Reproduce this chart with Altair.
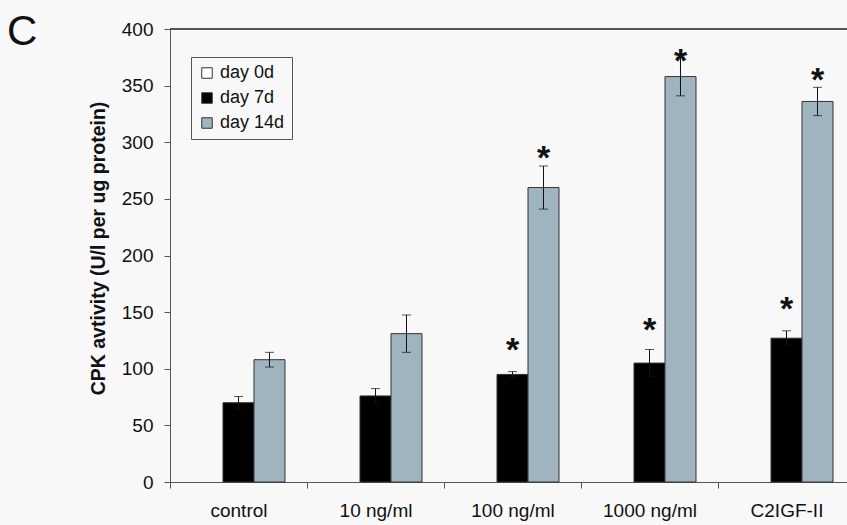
import altair as alt
import pandas as pd

# Creatine phosphokinase activity per treatment group and time point
categories = ["control", "10 ng/ml", "100 ng/ml", "1000 ng/ml", "C2IGF-II"]
series = ["day 0d", "day 7d", "day 14d"]
colors = ["#ffffff", "#000000", "#9fb4bf"]

day0 = [0, 0, 0, 0, 0]
day7 = [70, 76, 95, 105, 127]
day7_err = [5.5, 6.5, 2.5, 12, 6.5]
day14 = [108, 131, 260, 358, 336]
day14_err = [6.5, 16.5, 19, 17, 12.5]

# significance markers: group, series, height of the marker (U/l per ug protein)
star_cats = ["100 ng/ml", "100 ng/ml", "1000 ng/ml", "1000 ng/ml", "C2IGF-II", "C2IGF-II"]
star_series = ["day 7d", "day 14d", "day 7d", "day 14d", "day 7d", "day 14d"]
star_level = [124, 293, 141, 379, 160, 362]

y_ticks = [0, 50, 100, 150, 200, 250, 300, 350, 400]

rows = []
for s, vals, errs in [("day 0d", day0, [0] * 5), ("day 7d", day7, day7_err), ("day 14d", day14, day14_err)]:
    for c, v, e in zip(categories, vals, errs):
        rows.append({"group": c, "series": s, "value": v, "lo": v - e, "hi": v + e, "err": e})
df = pd.DataFrame(rows)
stars = pd.DataFrame({"group": star_cats, "series": star_series, "level": star_level, "mark": ["*"] * 6})

FONT = "Liberation Sans"
BAND_RANGE = 685

x_enc = alt.X(
    "group:N",
    sort=categories,
    scale=alt.Scale(domain=categories, range=[0, BAND_RANGE], paddingInner=0, paddingOuter=0),
    axis=alt.Axis(
        title=None, labelAngle=0, tickBand="extent", tickSize=6, labelPadding=13,
        labelFontSize=19, labelFont=FONT, labelColor="#111", domainColor="#555",
        tickColor="#555", labelBaseline="top",
    ),
)
xo_enc = alt.XOffset(
    "series:N", sort=series,
    scale=alt.Scale(domain=series, paddingOuter=0.71, paddingInner=0),
)
y_scale = alt.Scale(domain=[0, 400], nice=False)

# zero-height bars are left out; the legend still lists every series
bars = alt.Chart(df).transform_filter("datum.value > 0").mark_bar(stroke="#333", strokeWidth=1).encode(
    x=x_enc,
    xOffset=xo_enc,
    y=alt.Y(
        "value:Q", scale=y_scale,
        axis=alt.Axis(
            values=y_ticks, title="CPK avtivity (U/l per ug protein)", grid=False,
            tickSize=6, labelPadding=11, labelFontSize=19, labelFont=FONT,
            labelColor="#111", titleFont=FONT, titleFontSize=19.5, titleFontWeight="bold",
            titleColor="#111", titlePadding=13, titleY=219, domainColor="#555", tickColor="#555",
        ),
    ),
    color=alt.Color(
        "series:N", sort=series,
        scale=alt.Scale(domain=series, range=colors),
        legend=alt.Legend(
            title=None, orient="none", legendX=21, legendY=28, symbolType="square",
            symbolSize=110, symbolStrokeColor="#333", symbolStrokeWidth=1,
            labelFont=FONT, labelFontSize=18, labelColor="#111", rowPadding=7,
            padding=7, strokeColor="#555", fillColor="#f8f8f8",
        ),
    ),
)

err_data = alt.Chart(df).transform_filter("datum.err > 0")

whiskers = err_data.mark_rule(color="#111", strokeWidth=1).encode(
    x=x_enc, xOffset=xo_enc,
    y=alt.Y("lo:Q", scale=y_scale), y2="hi:Q",
)
caps_hi = err_data.mark_tick(color="#111", thickness=1, size=9).encode(
    x=x_enc, xOffset=xo_enc, y=alt.Y("hi:Q", scale=y_scale),
)
caps_lo = err_data.mark_tick(color="#111", thickness=1, size=9).encode(
    x=x_enc, xOffset=xo_enc, y=alt.Y("lo:Q", scale=y_scale),
)

star_marks = alt.Chart(stars).mark_text(
    font=FONT, fontSize=34, fontWeight="bold", color="#111",
    baseline="alphabetic", align="center", dy=19,
).encode(
    x=x_enc, xOffset=xo_enc, y=alt.Y("level:Q", scale=y_scale), text="mark:N",
)

top_border = alt.Chart(df).mark_rule(color="#555", strokeWidth=1).encode(
    x=alt.value(0), x2=alt.value(BAND_RANGE), y=alt.value(0),
)

panel_letter = alt.Chart(pd.DataFrame({"t": ["C"]})).mark_text(
    font=FONT, fontSize=42, color="#111", align="left", baseline="alphabetic",
).encode(x=alt.value(-163), y=alt.value(16), text="t:N")

chart = alt.layer(
    bars, whiskers, caps_hi, caps_lo, star_marks, top_border, panel_letter
).properties(
    width=677,
    height=453,
    autosize=alt.AutoSizeParams(type="none"),
    padding={"left": 170, "top": 29, "right": 0, "bottom": 43},
    background="#f8f8f8",
).configure_view(stroke=None)

chart.save("out.html", embed_options={"renderer": "svg", "actions": False})
